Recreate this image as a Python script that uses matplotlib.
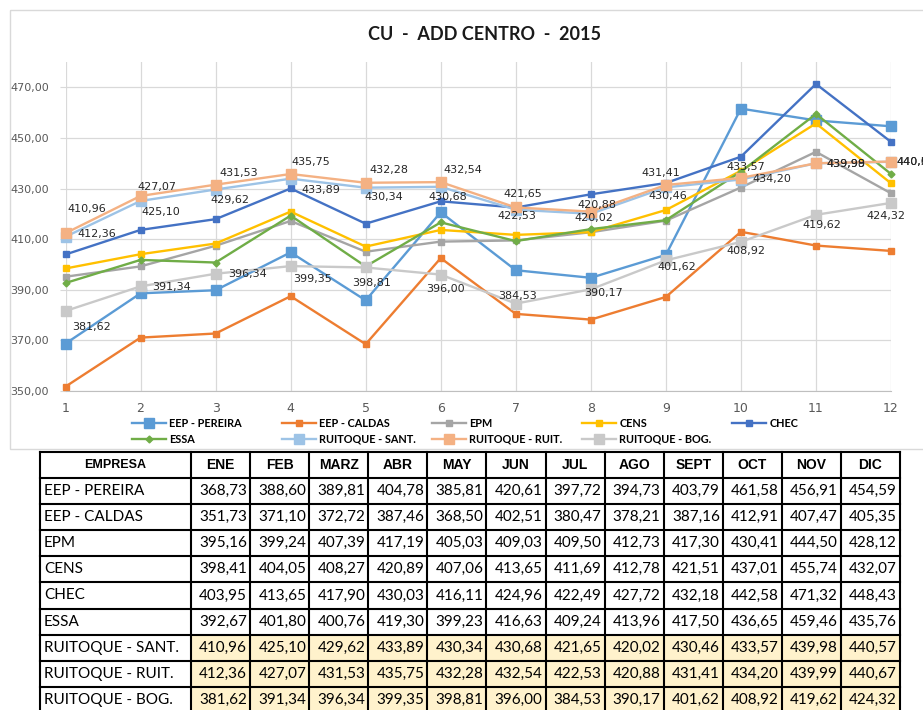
import numpy as np
import matplotlib
matplotlib.use('agg')
import matplotlib.pyplot as plt
from matplotlib.patches import Rectangle

# datos (tabla CU - ADD CENTRO 2015)
meses = list(range(1, 13))
cols_tabla = ['ENE', 'FEB', 'MARZ', 'ABR', 'MAY', 'JUN', 'JUL', 'AGO', 'SEPT', 'OCT', 'NOV', 'DIC']
empresas = ['EEP - PEREIRA', 'EEP - CALDAS', 'EPM', 'CENS', 'CHEC', 'ESSA',
            'RUITOQUE - SANT.', 'RUITOQUE - RUIT.', 'RUITOQUE - BOG.']

eep_pereira = [368.73, 388.60, 389.81, 404.78, 385.81, 420.61, 397.72, 394.73, 403.79, 461.58, 456.91, 454.59]
eep_caldas = [351.73, 371.10, 372.72, 387.46, 368.50, 402.51, 380.47, 378.21, 387.16, 412.91, 407.47, 405.35]
epm = [395.16, 399.24, 407.39, 417.19, 405.03, 409.03, 409.50, 412.73, 417.30, 430.41, 444.50, 428.12]
cens = [398.41, 404.05, 408.27, 420.89, 407.06, 413.65, 411.69, 412.78, 421.51, 437.01, 455.74, 432.07]
chec = [403.95, 413.65, 417.90, 430.03, 416.11, 424.96, 422.49, 427.72, 432.18, 442.58, 471.32, 448.43]
essa = [392.67, 401.80, 400.76, 419.30, 399.23, 416.63, 409.24, 413.96, 417.50, 436.65, 459.46, 435.76]
ruit_sant = [410.96, 425.10, 429.62, 433.89, 430.34, 430.68, 421.65, 420.02, 430.46, 433.57, 439.98, 440.57]
ruit_ruit = [412.36, 427.07, 431.53, 435.75, 432.28, 432.54, 422.53, 420.88, 431.41, 434.20, 439.99, 440.67]
ruit_bog = [381.62, 391.34, 396.34, 399.35, 398.81, 396.00, 384.53, 390.17, 401.62, 408.92, 419.62, 424.32]

series = [eep_pereira, eep_caldas, epm, cens, chec, essa, ruit_sant, ruit_ruit, ruit_bog]

# estilo de cada serie
colores = ['#5B9BD5', '#ED7D31', '#A5A5A5', '#FFC000', '#4472C4', '#70AD47', '#9DC3E6', '#F4B183', '#C9C9C9']
marcas = ['s', 's', 's', 's', 's', 'D', 's', 's', 's']
tam = [6.5, 4, 4, 4, 4, 3.5, 6.5, 6.5, 6.5]

# desplazamiento (px) de las etiquetas de las series Ruitoque
off_sant = [(21, -28), (20, 11), (14, 10), (30, 11), (18, 9), (7, 10), (7, -16), (3, 4), (2, 9), (5, -13), (30, 1), (25, 0)]
off_ruit = [(31, 1), (16, -9), (23, -12), (20, -12), (23, -13), (22, -12), (1, 9), (6, -7), (-5, -12), (31, 1), (30, 1), (25, 0)]
off_bog = [(26, 16), (31, 1), (32, 0), (22, 13), (6, 16), (5, 14), (2, -8), (13, 4), (11, 7), (5, 9), (6, 10), (-5, 13)]

W, H = 923, 710
fmt = lambda v: ('%.2f' % v).replace('.', ',')

fig = plt.figure(figsize=(W / 100, H / 100), dpi=100)

# capa de fondo para marco y tabla (coordenadas en pixeles)
ov = fig.add_axes([0, 0, 1, 1])
ov.set_xlim(0, W)
ov.set_ylim(H, 0)
ov.axis('off')
ov.add_patch(Rectangle((10, 10), W, 439, fill=False, ec='#D9D9D9', lw=1))

ax = fig.add_axes([65.5 / W, 1 - 391 / H, (891 - 65.5) / W, (391 - 62) / H])
ax.set_facecolor('none')

handles = []
for s, nom, c, m, ms in zip(series, empresas, colores, marcas, tam):
    h, = ax.plot(meses, s, color=c, lw=1.7, marker=m, markersize=ms, clip_on=False, label=nom)
    handles.append(h)

for s, offs in zip([ruit_sant, ruit_ruit, ruit_bog], [off_sant, off_ruit, off_bog]):
    for x, v, (dx, dy) in zip(meses, s, offs):
        ax.annotate(fmt(v), (x, v), xytext=(dx, -dy), textcoords='offset pixels',
                    ha='center', va='center', fontsize=8, color='#262626', family='DejaVu Sans')

ax.set_xlim(1, 12)
ax.set_ylim(350, 480)
ax.set_xticks(meses)
ax.set_yticks(np.arange(350, 471, 20))
ax.set_yticklabels([fmt(v) for v in np.arange(350, 471, 20)])
ax.grid(True, color='#D9D9D9', lw=0.9)
ax.set_axisbelow(True)
for sp in ['top', 'right', 'left']:
    ax.spines[sp].set_visible(False)
ax.spines['bottom'].set_color('#BFBFBF')
ax.tick_params(axis='y', length=4, color='#D9D9D9', pad=8, labelsize=8, labelcolor='#595959')
ax.tick_params(axis='x', length=0, pad=8, labelsize=9, labelcolor='#595959')

fig.text(484 / W, 1 - 34 / H, 'CU  -  ADD CENTRO  -  2015', ha='center', va='center',
         fontsize=13, fontweight='bold', family='Lato', color='#1a1a1a')

# leyenda en 5 columnas de ancho fijo
for i in range(5):
    fig.legend(handles[i::5], [h.get_label() for h in handles[i::5]], loc='upper left',
               bbox_to_anchor=((132 + 150 * i) / W, 1 - 418 / H), frameon=False,
               borderpad=0, borderaxespad=0, handlelength=3.1, handletextpad=0.35,
               labelspacing=0.45, prop={'family': 'Lato', 'weight': 'bold', 'size': 7.8})

# tabla
x0, x1 = 40, 191
cw = (900 - x1) / 12
y0, hh, rh = 452, 26, 26.1
for r in range(6, 9):
    yr = y0 + hh + r * rh
    ov.add_patch(Rectangle((x1, yr), 12 * cw, rh, fc='#FFF2CC', ec='none'))

ys = [y0, y0 + hh] + [y0 + hh + (r + 1) * rh for r in range(len(empresas))]
for y in ys:
    ov.plot([x0, x1 + 12 * cw], [y, y], color='black', lw=1.5, solid_capstyle='projecting')
xs = [x0, x1] + [x1 + (j + 1) * cw for j in range(12)]
for x in xs:
    ov.plot([x, x], [y0, ys[-1]], color='black', lw=1.5, solid_capstyle='projecting')

ov.text((x0 + x1) / 2, y0 + hh / 2, 'EMPRESA', ha='center', va='center', fontsize=9,
        fontweight='bold', family='Liberation Sans')
for j, m in enumerate(cols_tabla):
    ov.text(x1 + (j + 0.5) * cw, y0 + hh / 2, m, ha='center', va='center', fontsize=10,
            fontweight='bold', family='Liberation Sans')

for r, (nom, s) in enumerate(zip(empresas, series)):
    yc = y0 + hh + (r + 0.5) * rh
    ov.text(x0 + 4, yc, nom, ha='left', va='center', fontsize=11, family='Lato')
    for j, v in enumerate(s):
        ov.text(x1 + (j + 1) * cw - 3, yc, fmt(v), ha='right', va='center', fontsize=11, family='Lato')

fig.savefig('out.png', dpi=100)
